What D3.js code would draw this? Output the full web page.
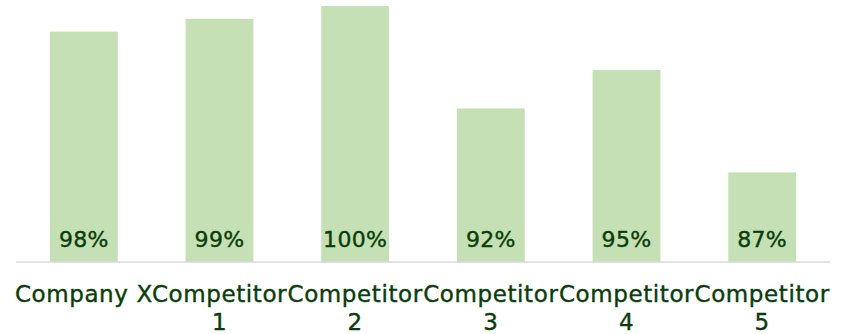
<!DOCTYPE html>
<html>
<head>
<meta charset="utf-8">
<script src="https://cdn.jsdelivr.net/npm/d3@7"></script>
<style>
  body { margin: 0; background: #fff; }
  text { font-family: "DejaVu Sans", sans-serif; fill: #0b3d0b; stroke: #0b3d0b; stroke-width: 0.4px; }
</style>
</head>
<body>
<script>
// chart data
var categories = ["Company X", "Competitor 1", "Competitor 2", "Competitor 3", "Competitor 4", "Competitor 5"];
var values = [98, 99, 100, 92, 95, 87];
var valueLabels = ["98%", "99%", "100%", "92%", "95%", "87%"];

var width = 851;
var height = 334;

var svg = d3.select("body").append("svg")
    .attr("width", width)
    .attr("height", height);

var x = d3.scaleBand()
    .domain(categories)
    .range([16, 830])
    .paddingInner(0.5)
    .paddingOuter(0.25);

var y = d3.scaleLinear()
    .domain([80, 100])
    .range([262, 6]);

// bars
svg.append("g").selectAll("rect")
    .data(categories)
    .enter()
    .append("rect")
    .attr("x", function(d) { return x(d); })
    .attr("y", function(d, i) { return y(values[i]); })
    .attr("width", x.bandwidth())
    .attr("height", function(d, i) { return y(80) - y(values[i]); })
    .attr("fill", "#c5e0b4");

// baseline
svg.append("line")
    .attr("x1", 16).attr("x2", 830)
    .attr("y1", y(80)).attr("y2", y(80))
    .attr("stroke", "#d9d9d9")
    .attr("stroke-width", 1.5);

// value labels inside bars
svg.append("g").selectAll("text")
    .data(categories)
    .enter()
    .append("text")
    .attr("x", function(d) { return x(d) + x.bandwidth() / 2; })
    .attr("y", y(80) - 15)
    .attr("text-anchor", "middle")
    .style("font-size", "22px")
    .style("letter-spacing", "0.3px")
    .text(function(d, i) { return valueLabels[i]; });

// category labels, wrapped when too wide
var cats = svg.append("g").selectAll("text")
    .data(categories)
    .enter()
    .append("text")
    .attr("x", function(d) { return x(d) + x.bandwidth() / 2; })
    .attr("y", 302)
    .attr("text-anchor", "middle")
    .style("font-size", "23px")
    .style("letter-spacing", "0.6px")
    .text(function(d) { return d; });

cats.each(function(d) {
  var t = d3.select(this);
  if (this.getComputedTextLength() > 148) {
    var words = d.split(" ");
    var last = words.pop();
    var cx = t.attr("x");
    t.text(null);
    t.append("tspan").attr("x", cx).attr("dy", 0).text(words.join(" "));
    t.append("tspan").attr("x", cx).attr("dy", 28).text(last);
  }
});
</script>
</body>
</html>
